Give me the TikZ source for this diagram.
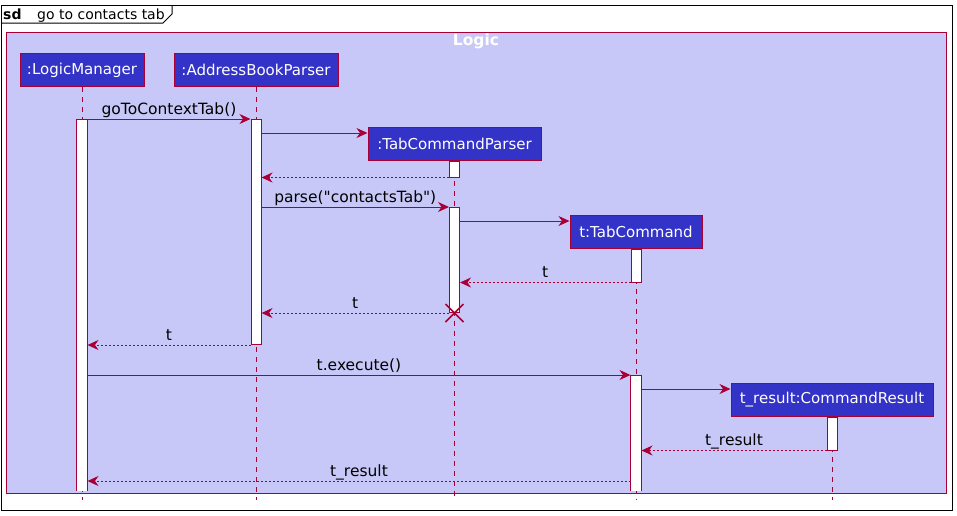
\documentclass[tikz,border=0pt]{standalone}
\usepackage{fontspec}
\setmainfont{DejaVu Sans}[Ligatures=TeXOff]
\usetikzlibrary{arrows.meta}
\definecolor{umlred}{HTML}{A80036}
\definecolor{umlblue}{HTML}{3333C8}
\definecolor{umlgroup}{HTML}{C8C8F8}
\tikzset{
  participant/.style={draw=umlred, fill=umlblue, text=white, line width=1pt,
    minimum height=33pt, inner sep=0pt, font=\fontsize{15}{17}\selectfont},
  lifeline/.style={draw=umlred, line width=1pt, dash pattern=on 5pt off 5pt},
  actbar/.style={draw=umlred, fill=white, line width=1pt, minimum width=10pt,
    inner sep=0pt, anchor=north},
  msg/.style={draw=umlred, line width=1pt, -{Stealth[length=11pt,width=10pt,inset=3.5pt]}},
  reply/.style={msg, dash pattern=on 2pt off 2pt},
  lbl/.style={midway, anchor=base, yshift=5pt, inner sep=0pt, text=black,
    font=\fontsize{15.5}{17}\selectfont},
}
\begin{document}
\begin{tikzpicture}[x=1pt,y=-1pt]
\useasboundingbox (0,0) rectangle (957,515);

% frame
\draw[line width=1pt, fill=white] (1,5) rectangle (952,510);
\draw[line width=1pt] (1,23) -- (163,23) -- (172,14) -- (172,5);
\node[anchor=base west, inner sep=0pt, font=\fontsize{14}{16}\selectfont\bfseries] (sd) at (3,19) {sd};
\node[anchor=base west, inner sep=0pt, font=\fontsize{14}{16}\selectfont] (title) at (37,19) {go to contacts tab};

% group
\draw[umlred, line width=1pt, fill=umlgroup] (6,32) rectangle (946,493);
\node[text=white, font=\fontsize{15.5}{17}\selectfont\bfseries] (logic) at (476,41) {Logic};

% message rows
\coordinate (m2) at (0,133);
\coordinate (m4) at (0,207);
\coordinate (m5) at (0,221);
\coordinate (m9) at (0,375);
\coordinate (m10) at (0,389);
\coordinate (m12) at (0,481);
\coordinate (bot) at (0,500);

% participants
\node[participant, minimum width=124pt] (lm) at (82,70) {:LogicManager};
\node[participant, minimum width=164pt] (abp) at (256,70) {:AddressBookParser};
\node[participant, minimum width=173pt] (tcp) at (454.5,143.5) {:TabCommandParser};
\node[participant, minimum width=132pt] (tc) at (636,231.5) {t:TabCommand};
\node[participant, minimum width=202pt] (cr) at (832,399.5) {t\_result:CommandResult};

% lifelines
\foreach \p in {lm,abp,tcp,tc,cr}
  \draw[lifeline] (\p.south) -- (\p.south |- bot);

% activations
\node[actbar, draw=none, minimum height=371pt] (lmbar) at (82,119) {};
\draw[umlred, line width=1pt] (lmbar.south west) -- (lmbar.north west) -- (lmbar.north east) -- (lmbar.south east);
\node[actbar, minimum height=225pt] (abpbar) at (256,119) {};
\node[actbar, minimum height=16pt] (tcpbar1) at (tcp.south) {};
\node[actbar, minimum height=105pt] (tcpbar2) at (tcp.south |- m4) {};
\node[actbar, minimum height=33pt] (tcbar1) at (tc.south) {};
\node[actbar, draw=none, minimum height=115pt] (tcbar2) at (tc.south |- m9) {};
\draw[umlred, line width=1pt] (tcbar2.south west) -- (tcbar2.north west) -- (tcbar2.north east) -- (tcbar2.south east);
\node[actbar, minimum height=33pt] (crbar) at (cr.south) {};

% messages
\draw[msg] (lmbar.north east) -- (abpbar.north west) node[lbl] {goToContextTab()};
\draw[msg] (abpbar.east |- m2) -- (tcp.west |- m2);
\draw[reply] (tcpbar1.south west) -- (abpbar.east |- tcpbar1.south);
\draw[msg] (abpbar.east |- m4) -- (tcpbar2.north west) node[lbl] {parse("contactsTab")};
\draw[msg] (tcpbar2.east |- m5) -- (tc.west |- m5);
\draw[reply] (tcbar1.south west) -- (tcpbar2.east |- tcbar1.south) node[lbl] {t};
\draw[reply] (tcpbar2.south west) -- (abpbar.east |- tcpbar2.south) node[lbl] {t};
\draw[reply] (abpbar.south west) -- (lmbar.east |- abpbar.south) node[lbl] {t};
\draw[msg] (lmbar.east |- m9) -- (tcbar2.north west) node[lbl] {t.execute()};
\draw[msg] (tcbar2.east |- m10) -- (cr.west |- m10);
\draw[reply] (crbar.south west) -- (tcbar2.east |- crbar.south) node[lbl] {t\_result};
\draw[reply] (tcbar2.west |- m12) -- (lmbar.east |- m12) node[lbl] {t\_result};

% destroy
\coordinate (x) at (tcpbar2.south);
\draw[umlred, line width=1.5pt] ([shift={(-9,-9)}]x) -- ([shift={(9,9)}]x)
  ([shift={(-9,9)}]x) -- ([shift={(9,-9)}]x);
\end{tikzpicture}
\end{document}
